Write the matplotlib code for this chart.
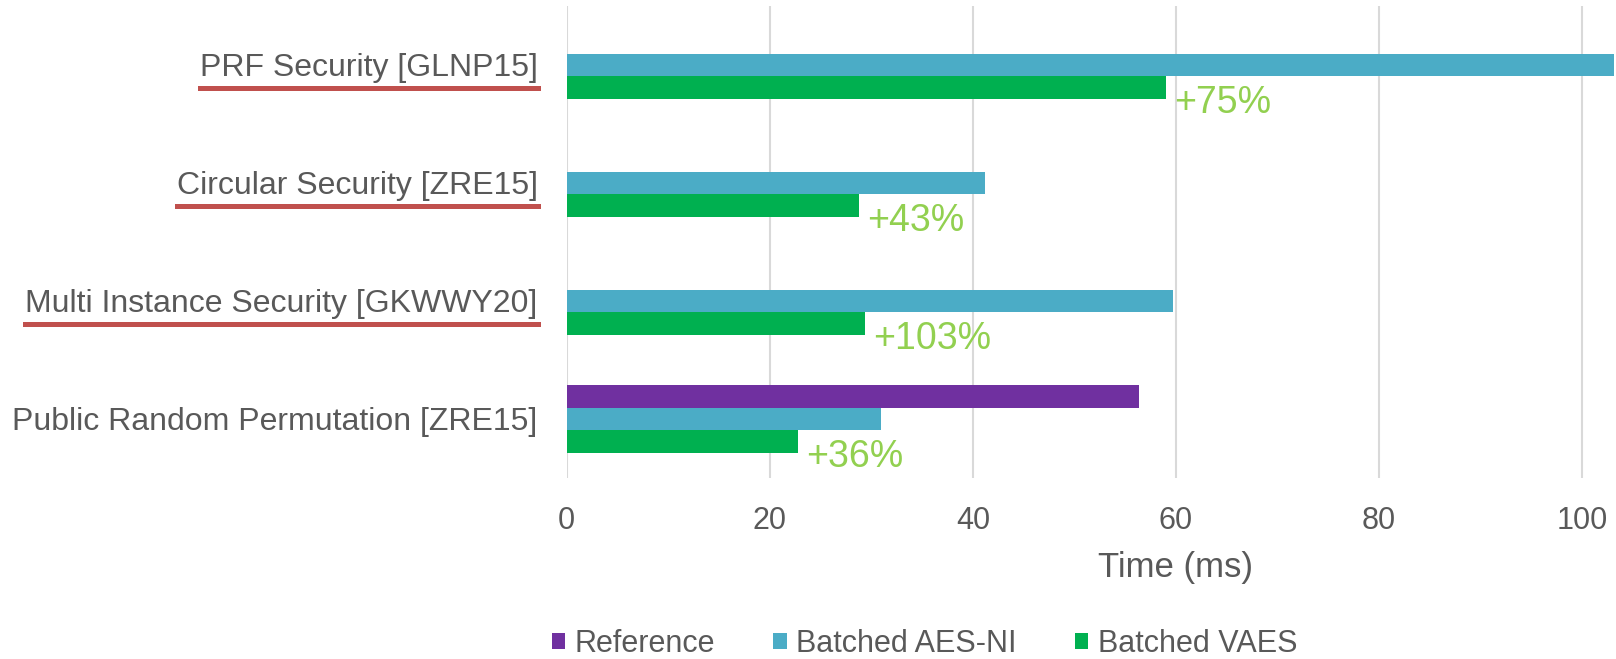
import matplotlib
matplotlib.use("Agg")
import matplotlib.pyplot as plt
from matplotlib.patches import Patch
from matplotlib.lines import Line2D
import numpy as np

plt.rcParams['font.family'] = ['Liberation Sans', 'DejaVu Sans']

# benchmark timings (ms), top to bottom
categories = ['PRF Security [GLNP15]',
              'Circular Security [ZRE15]',
              'Multi Instance Security [GKWWY20]',
              'Public Random Permutation [ZRE15]']
reference = [np.nan, np.nan, np.nan, 56.35]
aes_ni = [103.2, 41.2, 59.7, 31.0]
vaes = [59.0, 28.8, 29.4, 22.8]
underlined = [True, True, True, False]

series_names = ['Reference', 'Batched AES-NI', 'Batched VAES']
colors = ['#7030A0', '#4BACC6', '#00B050']
text_gray = '#595959'

fig = plt.figure(figsize=(16.16, 6.59), dpi=100)
# axes runs to 120 ms; the figure cuts it off a bit past 100
ax = fig.add_axes([0.3507, 0.2747, 0.7539, 0.7162])

y = np.arange(len(categories))
h = 0.19
for off, vals, c in zip([-h, 0, h], [reference, aes_ni, vaes], colors):
    v = np.array(vals, dtype=float)
    ok = ~np.isnan(v)
    ax.barh(y[ok] + off, v[ok], height=h, color=c, zorder=3)

# speed-up of VAES over AES-NI, written after the green bar
for i in range(len(categories)):
    gain = round((aes_ni[i] / vaes[i] - 1) * 100)
    ax.annotate(f'+{gain}%', xy=(vaes[i], y[i] + h * 1.5),
                xytext=(6, -3), textcoords='offset points',
                ha='left', va='center', fontsize=27, color='#92D050',
                zorder=4)

ax.set_xlim(0, 120)
ax.set_ylim(3.5, -0.5)
ax.set_xticks(range(0, 101, 20))
ax.set_yticks(y)
ax.set_yticklabels(categories)
# keep the 120 gridline even though its label is off the page
for gx in range(0, 121, 20):
    ax.axvline(gx, color='#D9D9D9', linewidth=1.5, zorder=0)
for s in ax.spines.values():
    s.set_visible(False)
ax.tick_params(axis='x', length=0, pad=20, labelsize=22, labelcolor=text_gray)
ax.tick_params(axis='y', length=0, pad=21, labelsize=23, labelcolor=text_gray)
ax.set_xlabel('Time (ms)', fontsize=25, color=text_gray, labelpad=11)

handles = [Patch(facecolor=c, edgecolor='none') for c in colors]
fig.legend(handles, series_names, loc='center', bbox_to_anchor=(0.572, 0.0225),
           ncol=3, frameon=False, fontsize=22, labelcolor=text_gray,
           handlelength=0.45, handleheight=0.45, handletextpad=0.3,
           columnspacing=1.9)

# red underline below the selected category names
fig.canvas.draw()
renderer = fig.canvas.get_renderer()
inv = fig.transFigure.inverted()
for i, lab in enumerate(ax.get_yticklabels()):
    if not underlined[i]:
        continue
    bb = lab.get_window_extent(renderer)
    yd = ax.transData.transform((0, y[i]))[1] - 23
    (x0, y0), (x1, y1) = inv.transform([(bb.x0, yd), (bb.x1, yd)])
    fig.add_artist(Line2D([x0, x1], [y0, y1], color='#C0504D', linewidth=3.6,
                          transform=fig.transFigure))

fig.savefig('out.png', dpi=100)
